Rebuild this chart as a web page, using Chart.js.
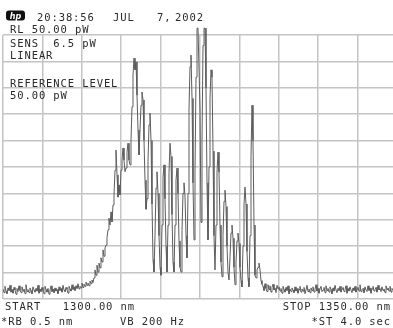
<!DOCTYPE html>
<html>
<head>
<meta charset="utf-8">
<script src="https://cdn.jsdelivr.net/npm/chart.js@4"></script>
<style>
  html, body { margin: 0; padding: 0; background: #fff; }
  #wrap { width: 393px; height: 328px; position: relative; }
</style>
</head>
<body>
<div id="wrap"><canvas id="myChart"></canvas></div>
<script>
// trace span (nm) and display scale (pW, linear)
const START_NM = 1300;
const STOP_NM = 1350;
const REF_LEVEL = 50;
const DIV_PW = 5;

// trace power in pW, left noise floor
const traceLeft = [
  1.9, 1.2, 2.4, 1.5, 1.0, 2.1, 1.6, 2.6, 1.3, 1.8,
  1.1, 2.2, 1.7, 0.9, 2.0, 1.4, 2.5, 1.6, 1.2, 2.3,
  1.5, 1.9, 1.0, 2.7, 1.4, 1.8, 1.2, 2.1, 1.6, 1.0,
  2.3, 1.7, 1.3, 2.0, 1.5, 2.6, 1.1, 1.9, 1.4, 2.2,
  1.6, 1.0, 2.4, 1.8, 1.3, 2.0, 0.9, 1.7, 2.5, 1.4,
  1.9, 1.2, 2.1, 1.5, 1.8, 1.0, 2.3, 1.6, 2.0, 1.3,
  2.6, 1.7, 1.4, 2.2, 1.8, 1.1, 2.4, 1.9, 1.5, 2.7,
  1.8, 2.3, 1.6, 2.5, 2.0, 2.9, 1.9, 2.4, 2.1, 3.0,
  2.2, 2.8, 2.4, 3.2, 2.6, 3.0, 2.5, 3.4, 2.9, 3.6, 3.1, 4.0
];

// longitudinal modes
const traceModes = [
  5.5, 4.5, 6.4, 5.1, 6.8, 5.9, 7.8, 7.0, 9.3, 8.1,
  9.7, 10.2, 11.6, 13.1, 15.3, 14.0, 16.5, 14.6, 17.8, 19.7,
  24.4, 28.2, 23.5, 19.3, 21.6, 19.7, 24.4, 26.3, 28.6, 26.3,
  24.1, 24.8, 27.8, 29.5, 26.3, 25.4, 30.1, 36.4, 42.4, 45.6,
  43.4, 44.9, 38.6, 32.0, 27.3, 32.0, 36.7, 39.2, 37.7, 30.1,
  22.5, 17.0, 19.0, 26.0, 33.0, 35.2, 30.0, 18.0, 7.5, 5.1,
  12.0, 21.0, 24.1, 20.0, 12.0, 6.0, 4.5, 14.0, 23.0, 25.4,
  19.0, 10.0, 5.1, 14.0, 24.0, 29.5, 27.0, 16.0, 7.0, 5.1,
  14.0, 22.5, 24.8, 20.0, 11.0, 6.0, 5.1, 13.0, 20.0, 22.0,
  19.5, 12.0, 7.8, 20.0, 36.0, 44.0, 46.2, 38.0, 22.0, 11.2,
  24.0, 42.0, 51.3, 51.3, 51.3, 36.0, 14.5, 30.0, 48.0, 51.3,
  51.3, 40.0, 22.0, 11.2, 25.0, 38.0, 43.4, 42.0, 28.0, 12.0,
  5.5, 14.0, 24.0, 27.8, 24.0, 14.0, 7.0, 4.2, 12.0, 18.5,
  20.6, 17.5, 10.0, 5.0, 3.6, 8.0, 12.5, 14.0, 11.5, 6.0,
  2.7, 7.0, 11.0, 12.5, 10.5, 6.0, 3.5, 2.3, 10.0, 18.0,
  21.2, 18.0, 9.0, 4.0, 2.3, 12.0, 27.0, 36.7, 30.0, 14.0,
  4.5, 4.0, 5.5, 6.0, 6.8, 5.5, 3.5, 2.8
];

// right noise floor
const traceRight = [
  2.4, 1.6, 2.9, 2.0, 1.4, 2.7, 1.8, 2.5, 1.3, 2.2,
  2.8, 1.7, 2.1, 1.2, 2.6, 1.9, 2.3, 1.5, 2.0, 1.1,
  2.4, 1.8, 1.3, 2.2, 1.6, 2.5, 1.0, 1.9, 1.4, 2.1,
  1.7, 1.2, 2.3, 1.5, 2.0, 1.1, 1.8, 2.4, 1.3, 1.9,
  1.5, 2.2, 1.0, 1.7, 2.6, 1.4, 1.9, 1.2, 2.1, 1.6,
  2.3, 1.3, 1.8, 2.7, 1.5, 2.0, 1.1, 1.9, 2.4, 1.4,
  1.7, 2.2, 1.2, 2.5, 1.6, 2.0, 1.3, 2.3, 1.8, 1.0,
  2.1, 1.5, 2.6, 1.7, 1.2, 2.0, 1.6, 2.4, 1.3, 1.9,
  2.2, 1.4, 1.8, 2.5, 1.1, 2.0, 1.5, 2.3, 1.7, 1.2,
  2.1, 1.6, 2.4, 1.3, 1.9, 2.2, 1.5, 2.7, 1.4, 1.8,
  2.0, 1.2, 2.3, 1.7, 1.4, 2.5, 1.6, 2.1, 1.1, 1.9,
  2.4, 1.5, 1.8, 2.2, 1.3, 2.6, 1.7, 2.0, 1.4, 2.3,
  1.6, 1.9, 1.2, 2.5, 1.8, 2.1, 1.5, 2.4, 1.3, 2.0,
  1.7, 2.2, 1.4, 1.9, 1.6
];

// annotation texts
const headerText = ['20:38:56', 'JUL', '7,', '2002'];
const leftText = ['RL 50.00 pW', 'SENS  6.5 pW', 'LINEAR', 'REFERENCE LEVEL', '50.00 pW'];
const footLeft = ['START   1300.00 nm', '*RB 0.5 nm'];
const footMid = 'VB 200 Hz';
const footRight = ['STOP 1350.00 nm', '*ST 4.0 sec'];

const power = traceLeft.concat(traceModes, traceRight);
const nmStep = (STOP_NM - START_NM) / (power.length - 1);
const points = power.map((p, i) => ({ x: START_NM + i * nmStep, y: p }));

const MONO = '10.5px "DejaVu Sans Mono", monospace';

const screenText = {
  id: 'screenText',
  beforeDraw(chart) {
    const ctx = chart.ctx;
    ctx.save();
    ctx.fillStyle = '#fff';
    ctx.fillRect(0, 0, chart.width, chart.height);
    ctx.restore();
  },
  afterDraw(chart) {
    const ctx = chart.ctx;
    ctx.save();
    // hp logo
    ctx.fillStyle = '#111';
    ctx.beginPath();
    ctx.roundRect(6, 10.5, 19, 10, 3);
    ctx.fill();
    ctx.fillStyle = '#fff';
    ctx.font = 'italic bold 8px "DejaVu Sans", sans-serif';
    ctx.textAlign = 'center';
    ctx.textBaseline = 'alphabetic';
    ctx.fillText('hp', 15.5, 18.5);

    ctx.fillStyle = '#2a2a2a';
    ctx.font = MONO;
    ctx.letterSpacing = '0.9px';
    ctx.textAlign = 'left';
    ctx.fillText(headerText[0], 37, 20.5);
    ctx.fillText(headerText[1], 113, 20.5);
    ctx.fillText(headerText[2], 157, 20.5);
    ctx.fillText(headerText[3], 175, 20.5);

    const leftY = [32.5, 46.5, 59, 86.5, 99];
    leftText.forEach((t, i) => ctx.fillText(t, 10, leftY[i]));

    ctx.fillText(footLeft[0], 5, 309.5);
    ctx.fillText(footLeft[1], 1, 324.5);
    ctx.fillText(footMid, 120, 324.5);
    ctx.textAlign = 'right';
    ctx.fillText(footRight[0], 391, 309.5);
    ctx.fillText(footRight[1], 391, 324.5);
    ctx.restore();
  }
};

const config = {
  type: 'line',
  data: {
    datasets: [{
      data: points,
      borderColor: '#5c5c5c',
      borderWidth: 1,
      pointRadius: 0,
      tension: 0,
      fill: false,
      clip: { left: 0, top: 8, right: 0, bottom: 0 }
    }]
  },
  plugins: [screenText],
  options: {
    responsive: true,
    maintainAspectRatio: false,
    animation: false,
    events: [],
    layout: { padding: { left: 3, right: 0, top: 35, bottom: 29 } },
    plugins: {
      legend: { display: false },
      title: { display: false },
      tooltip: { enabled: false }
    },
    scales: {
      x: {
        type: 'linear',
        min: START_NM,
        max: START_NM + 390 * (STOP_NM - START_NM) / 394,
        border: { display: false },
        grid: { color: '#c4c4c4', lineWidth: 1.5, drawTicks: false },
        ticks: { display: false, stepSize: 5, includeBounds: false }
      },
      y: {
        min: 0,
        max: REF_LEVEL,
        border: { display: false },
        grid: { color: '#c4c4c4', lineWidth: 1.5, drawTicks: false },
        ticks: { display: false, stepSize: DIV_PW }
      }
    }
  }
};

new Chart(document.getElementById('myChart'), config);
</script>
</body>
</html>
